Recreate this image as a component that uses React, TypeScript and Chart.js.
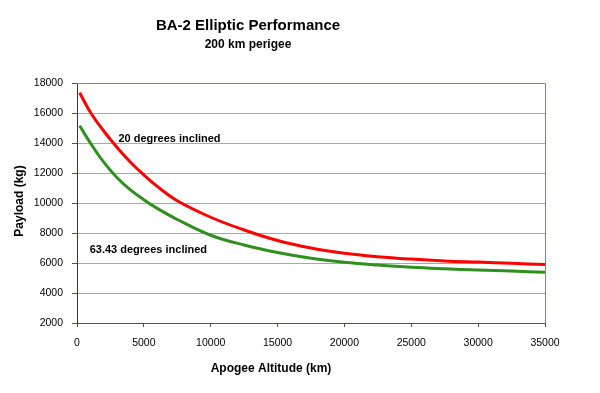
import React, { useEffect, useRef } from "react";
import { Chart, registerables } from "chart.js";

Chart.register(...registerables);

const altitudeKm = [200, 1000, 2000, 3000, 4000, 5000, 6000, 7500, 10000, 12500, 15000, 17500, 20000, 22500, 25000, 27500, 30000, 32500, 35000];
const payload20 = [17350, 16050, 14800, 13700, 12720, 11870, 11110, 10150, 9050, 8200, 7500, 7000, 6650, 6420, 6260, 6140, 6060, 5980, 5900];
const payload6343 = [15150, 14000, 12720, 11680, 10870, 10220, 9640, 8900, 7850, 7200, 6700, 6320, 6050, 5860, 5710, 5610, 5530, 5460, 5380];

const chartTitle = "BA-2 Elliptic Performance";
const chartSubtitle = "200 km perigee";
const xTitle = "Apogee Altitude (km)";
const yTitle = "Payload (kg)";
const label20 = "20 degrees inclined";
const label6343 = "63.43 degrees inclined";
// annotation anchors in data units
const label20At = { x: 3100, y: 14300 };
const label6343At = { x: 950, y: 6870 };

const FONT = "'Liberation Sans', Arial, sans-serif";

export default function App() {
  const ref = useRef<HTMLCanvasElement | null>(null);

  useEffect(() => {
    if (!ref.current) return;
    const textPlugin = {
      id: "texts",
      afterDatasetsDraw(chart: any) {
        const ctx = chart.ctx;
        const { left, right, top, bottom } = chart.chartArea;
        const xs = chart.scales.x;
        const ys = chart.scales.y;
        ctx.save();
        ctx.strokeStyle = "#8c8c4c";
        ctx.lineWidth = 1;
        ctx.beginPath();
        ctx.moveTo(left, top + 0.5);
        ctx.lineTo(right + 0.5, top + 0.5);
        ctx.lineTo(right + 0.5, bottom);
        ctx.stroke();
        ctx.fillStyle = "#000";
        ctx.textBaseline = "middle";
        ctx.textAlign = "left";
        ctx.font = `bold 11px ${FONT}`;
        ctx.fillText(label20, xs.getPixelForValue(label20At.x), ys.getPixelForValue(label20At.y));
        ctx.fillText(label6343, xs.getPixelForValue(label6343At.x), ys.getPixelForValue(label6343At.y));
        ctx.restore();
      },
      afterDraw(chart: any) {
        const ctx = chart.ctx;
        ctx.save();
        ctx.fillStyle = "#000";
        ctx.textAlign = "center";
        ctx.textBaseline = "middle";
        ctx.font = `bold 15px ${FONT}`;
        ctx.fillText(chartTitle, 248, 26);
        ctx.font = `bold 12px ${FONT}`;
        ctx.fillText(chartSubtitle, 248, 45);
        ctx.fillText(xTitle, 271, 369);
        ctx.translate(20, 201);
        ctx.rotate(-Math.PI / 2);
        ctx.fillText(yTitle, 0, 0);
        ctx.restore();
      },
    };

    const plain = (v: any) => String(v);

    const chart = new Chart(ref.current, {
      type: "line",
      data: {
        datasets: [
          {
            label: label20,
            data: altitudeKm.map((x, i) => ({ x, y: payload20[i] })),
            borderColor: "#ff0000",
            borderWidth: 3,
            pointRadius: 0,
            tension: 0.4,
            fill: false,
          },
          {
            label: label6343,
            data: altitudeKm.map((x, i) => ({ x, y: payload6343[i] })),
            borderColor: "#2f8f1f",
            borderWidth: 3,
            pointRadius: 0,
            tension: 0.4,
            fill: false,
          },
        ],
      },
      options: {
        responsive: false,
        animation: false,
        layout: { padding: { top: 83, right: 55, left: 0, bottom: 0 } },
        plugins: { legend: { display: false }, title: { display: false }, tooltip: { enabled: false } },
        scales: {
          x: {
            type: "linear",
            min: 0,
            max: 35000,
            afterFit: (s: any) => { s.height = 70; },
            ticks: { stepSize: 5000, color: "#000", font: { family: FONT, size: 10.5 }, padding: 10, maxRotation: 0, callback: plain },
            grid: { drawOnChartArea: false, drawTicks: true, tickLength: 4, color: "#555530" },
            border: { color: "#555530", width: 1 },
          },
          y: {
            type: "linear",
            min: 2000,
            max: 18000,
            afterFit: (s: any) => { s.width = 77; },
            ticks: { stepSize: 2000, color: "#000", font: { family: FONT, size: 10.5 }, padding: 9, callback: plain },
            grid: { color: "#a8a8a8", tickColor: "#555530", tickLength: 5 },
            border: { color: "#3a3a20", width: 1 },
          },
        },
      },
      plugins: [textPlugin],
    });
    return () => chart.destroy();
  }, []);

  return (
    <div style={{ position: "absolute", left: 0, top: 0, width: 600, height: 393, background: "#fff" }}>
      <canvas ref={ref} width={600} height={393} style={{ display: "block", width: 600, height: 393 }} />
    </div>
  );
}
